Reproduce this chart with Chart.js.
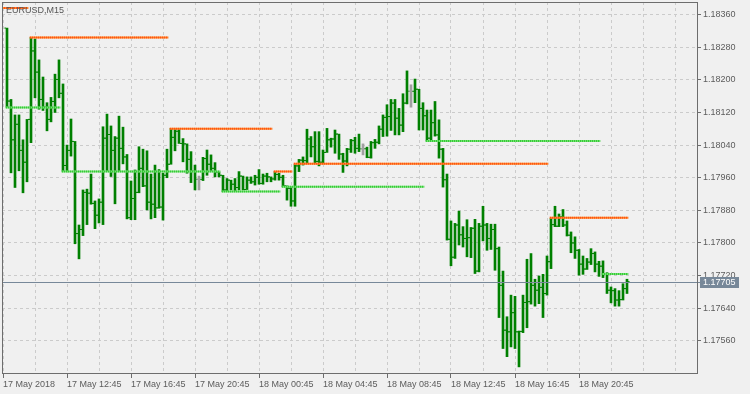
<!DOCTYPE html>
<html>
<head>
<meta charset="utf-8">
<title>EURUSD,M15</title>
<script src="https://cdn.jsdelivr.net/npm/chart.js@4.4.0/dist/chart.umd.min.js"></script>
<style>
  html, body { margin: 0; padding: 0; background: #f0f0f0; }
  #wrap { width: 750px; height: 394px; }
</style>
</head>
<body>
<div id="wrap"><canvas id="chart" width="750" height="394"></canvas></div>
<script>
// EURUSD M15 bars, 17 May 2018 09:00 onwards (one entry per bar)
const opens = [
  1.18327, 1.18148, 1.18053, 1.18091, 1.18027, 1.17998, 1.18103, 1.18271, 1.18219, 1.18152,
  1.18133, 1.18103, 1.18147, 1.18201, 1.18167, 1.17990, 1.18027, 1.18049, 1.17823, 1.17833,
  1.17924, 1.17922, 1.17897, 1.17868, 1.17900, 1.18057, 1.18066, 1.18027, 1.18057, 1.18032,
  1.18011, 1.17862, 1.17909, 1.17924, 1.17983, 1.17940, 1.17900, 1.17895, 1.17886, 1.17888,
  1.17966, 1.17993, 1.18059, 1.18074, 1.18044, 1.18043, 1.18005, 1.17976, 1.17956, 1.17956,
  1.18007, 1.17993, 1.17983, 1.17974, 1.17966, 1.17930, 1.17954, 1.17944, 1.17936, 1.17964,
  1.17931, 1.17954, 1.17950, 1.17961, 1.17946, 1.17964, 1.17962, 1.17957, 1.17968, 1.17961,
  1.17940, 1.17934, 1.17903, 1.17989, 1.18003, 1.18002, 1.18055, 1.18036, 1.18000, 1.17998,
  1.18022, 1.18053, 1.18055, 1.18067, 1.18018, 1.18001, 1.18030, 1.18051, 1.18032, 1.18031,
  1.18031, 1.18010, 1.18046, 1.18047, 1.18079, 1.18108, 1.18110, 1.18143, 1.18106, 1.18089,
  1.18143, 1.18172, 1.18172, 1.18177, 1.18130, 1.18112, 1.18057, 1.18095, 1.18065, 1.18030,
  1.17955, 1.17809, 1.17765, 1.17844, 1.17820, 1.17811, 1.17813, 1.17836, 1.17731, 1.17841,
  1.17844, 1.17811, 1.17833, 1.17786, 1.17696, 1.17586, 1.17582, 1.17629, 1.17582, 1.17583,
  1.17654, 1.17656, 1.17696, 1.17684, 1.17691, 1.17676, 1.17754, 1.17845, 1.17841, 1.17864,
  1.17844, 1.17819, 1.17800, 1.17782, 1.17748, 1.17736, 1.17753, 1.17774, 1.17748, 1.17743,
  1.17725, 1.17684, 1.17683, 1.17660, 1.17661, 1.17688
];
const highs = [
  1.18327, 1.18152, 1.18114, 1.18114, 1.18053, 1.18103, 1.18304, 1.18300, 1.18249, 1.18207,
  1.18144, 1.18157, 1.18214, 1.18249, 1.18190, 1.18040, 1.18104, 1.18049, 1.17844, 1.17930,
  1.17932, 1.17969, 1.17903, 1.17908, 1.18085, 1.18116, 1.18087, 1.18061, 1.18111, 1.18084,
  1.18017, 1.17952, 1.17979, 1.18036, 1.18030, 1.18026, 1.17969, 1.17991, 1.17980, 1.17971,
  1.18030, 1.18081, 1.18078, 1.18078, 1.18056, 1.18043, 1.18024, 1.17991, 1.17964, 1.18010,
  1.18028, 1.18016, 1.17997, 1.17974, 1.17966, 1.17958, 1.17954, 1.17958, 1.17975, 1.17964,
  1.17962, 1.17962, 1.17966, 1.17980, 1.17969, 1.17971, 1.17962, 1.17975, 1.17971, 1.17966,
  1.17940, 1.17938, 1.17992, 1.18005, 1.18011, 1.18079, 1.18061, 1.18073, 1.18073, 1.18028,
  1.18081, 1.18057, 1.18077, 1.18067, 1.18020, 1.18032, 1.18054, 1.18059, 1.18067, 1.18043,
  1.18035, 1.18049, 1.18054, 1.18087, 1.18114, 1.18139, 1.18152, 1.18152, 1.18130, 1.18166,
  1.18222, 1.18188, 1.18202, 1.18177, 1.18144, 1.18126, 1.18126, 1.18147, 1.18102, 1.18032,
  1.17969, 1.17854, 1.17848, 1.17878, 1.17840, 1.17857, 1.17838, 1.17858, 1.17848, 1.17890,
  1.17848, 1.17846, 1.17846, 1.17790, 1.17731, 1.17619, 1.17672, 1.17669, 1.17584, 1.17672,
  1.17760, 1.17774, 1.17711, 1.17719, 1.17723, 1.17768, 1.17860, 1.17890, 1.17871, 1.17882,
  1.17854, 1.17827, 1.17815, 1.17784, 1.17768, 1.17762, 1.17786, 1.17778, 1.17755, 1.17756,
  1.17727, 1.17692, 1.17688, 1.17683, 1.17700, 1.17711
];
const lows = [
  1.18133, 1.17972, 1.17936, 1.17977, 1.17923, 1.17950, 1.18046, 1.18156, 1.18128, 1.18125,
  1.18075, 1.18097, 1.18120, 1.18156, 1.17976, 1.17976, 1.18013, 1.17798, 1.17761, 1.17818,
  1.17845, 1.17895, 1.17835, 1.17849, 1.17845, 1.17976, 1.17963, 1.17896, 1.17976, 1.17994,
  1.17859, 1.17857, 1.17857, 1.17923, 1.17938, 1.17881, 1.17859, 1.17862, 1.17885, 1.17856,
  1.17960, 1.17993, 1.18026, 1.18044, 1.17999, 1.17971, 1.17948, 1.17930, 1.17930, 1.17953,
  1.17966, 1.17975, 1.17962, 1.17962, 1.17926, 1.17927, 1.17930, 1.17927, 1.17930, 1.17930,
  1.17931, 1.17946, 1.17942, 1.17944, 1.17944, 1.17950, 1.17950, 1.17954, 1.17954, 1.17938,
  1.17905, 1.17890, 1.17890, 1.17975, 1.17991, 1.17995, 1.18011, 1.17995, 1.17989, 1.17995,
  1.18022, 1.18035, 1.18020, 1.18005, 1.17973, 1.17989, 1.18022, 1.18020, 1.18024, 1.18016,
  1.18009, 1.18008, 1.18032, 1.18043, 1.18061, 1.18062, 1.18076, 1.18065, 1.18065, 1.18073,
  1.18141, 1.18133, 1.18144, 1.18077, 1.18077, 1.18050, 1.18053, 1.18062, 1.18008, 1.17937,
  1.17807, 1.17744, 1.17762, 1.17795, 1.17790, 1.17766, 1.17764, 1.17725, 1.17729, 1.17805,
  1.17782, 1.17784, 1.17733, 1.17617, 1.17541, 1.17521, 1.17545, 1.17541, 1.17496, 1.17580,
  1.17592, 1.17650, 1.17645, 1.17651, 1.17617, 1.17672, 1.17737, 1.17840, 1.17840, 1.17840,
  1.17817, 1.17776, 1.17762, 1.17721, 1.17723, 1.17735, 1.17747, 1.17729, 1.17718, 1.17715,
  1.17676, 1.17653, 1.17645, 1.17645, 1.17660, 1.17676
];
const closes = [
  1.18148, 1.18053, 1.18091, 1.18027, 1.17998, 1.18103, 1.18271, 1.18219, 1.18152, 1.18133,
  1.18103, 1.18147, 1.18201, 1.18167, 1.17990, 1.18027, 1.18049, 1.17823, 1.17833, 1.17924,
  1.17922, 1.17897, 1.17868, 1.17900, 1.18057, 1.18066, 1.18027, 1.18057, 1.18032, 1.18011,
  1.17862, 1.17909, 1.17924, 1.17983, 1.17940, 1.17900, 1.17895, 1.17886, 1.17888, 1.17966,
  1.17993, 1.18059, 1.18074, 1.18044, 1.18043, 1.18005, 1.17976, 1.17956, 1.17956, 1.18007,
  1.17993, 1.17983, 1.17974, 1.17966, 1.17930, 1.17954, 1.17944, 1.17936, 1.17964, 1.17931,
  1.17954, 1.17950, 1.17961, 1.17946, 1.17964, 1.17962, 1.17957, 1.17968, 1.17961, 1.17940,
  1.17934, 1.17903, 1.17989, 1.18003, 1.18002, 1.18055, 1.18036, 1.18000, 1.17998, 1.18022,
  1.18053, 1.18055, 1.18067, 1.18018, 1.18001, 1.18030, 1.18051, 1.18032, 1.18031, 1.18031,
  1.18010, 1.18046, 1.18047, 1.18079, 1.18108, 1.18110, 1.18143, 1.18106, 1.18089, 1.18143,
  1.18172, 1.18172, 1.18177, 1.18130, 1.18112, 1.18057, 1.18095, 1.18065, 1.18030, 1.17955,
  1.17809, 1.17765, 1.17844, 1.17820, 1.17811, 1.17813, 1.17836, 1.17731, 1.17841, 1.17844,
  1.17811, 1.17833, 1.17786, 1.17696, 1.17586, 1.17582, 1.17629, 1.17582, 1.17583, 1.17654,
  1.17656, 1.17696, 1.17684, 1.17691, 1.17676, 1.17754, 1.17845, 1.17841, 1.17864, 1.17844,
  1.17819, 1.17800, 1.17782, 1.17748, 1.17736, 1.17753, 1.17774, 1.17748, 1.17743, 1.17725,
  1.17684, 1.17683, 1.17660, 1.17661, 1.17688, 1.17705
];

// time axis: a label every 16 bars (4 hours), first one sits one bar before bar 0
const xLabels = ['17 May 2018', '17 May 12:45', '17 May 16:45', '17 May 20:45', '18 May 00:45',
                 '18 May 04:45', '18 May 08:45', '18 May 12:45', '18 May 16:45', '18 May 20:45'];
const xLabelFirstBar = -1;
const barsPerLabel = 16;
const barsPerGrid = 8;

const yTicks = [1.17560, 1.17640, 1.17720, 1.17800, 1.17880, 1.17960,
                1.18040, 1.18120, 1.18200, 1.18280, 1.18360];
const lastPrice = 1.17705;

// dotted indicator levels (price, first bar, last bar, high/low)
const levelPrices = [1.18376, 1.18304, 1.18132, 1.17975, 1.18080, 1.17926,
                     1.17975, 1.17938, 1.17994, 1.18050, 1.17862, 1.17724];
const levelFrom = [-1, 6, 0, 14, 41, 54, 67, 69, 72, 105, 136, 149];
const levelTo = [5, 40, 13, 53, 66, 68, 71, 104, 135, 148, 155, 155];
const levelIsHigh = [true, true, false, false, true, false, true, false, true, false, true, false];

const FONT = "'Liberation Sans', Arial, sans-serif";
const TEXT = '#5c5c5c';
const FRAME = '#6d6d6d';
const GRID = '#cbcbcb';
const PRICE = '#778899';

Chart.defaults.font.family = FONT;
Chart.defaults.font.size = 9;
Chart.defaults.color = TEXT;

function levelData(high) {
    const pts = [];
    levelPrices.forEach((p, k) => {
        if (levelIsHigh[k] !== high) return;
        pts.push({x: levelFrom[k] - 0.3, y: p});
        pts.push({x: levelTo[k] + 0.3, y: p});
        pts.push({x: levelTo[k] + 0.4, y: null});
    });
    return pts;
}

function levelLine(data, color, dash) {
    return {
        type: 'line', data: data, borderColor: color, borderWidth: 2, borderDash: dash,
        pointRadius: 0, spanGaps: false, fill: false, tension: 0
    };
}

const barColors = closes.map((c, i) => c === opens[i] ? '#a0a0a0' : '#008000');

function tickData(values, shift) {
    return values.map((v, i) => ({x: i + shift, y: v}));
}

function tickSet(values, shift) {
    return {
        type: 'scatter', data: tickData(values, shift),
        pointStyle: 'line', pointRadius: 0.8, pointHoverRadius: 0.8,
        pointBorderWidth: 1, pointBorderColor: barColors, pointBackgroundColor: barColors
    };
}

// keep the axes from reserving room for labels that sit inside the plot
function noPadding(scale) {
    scale.paddingTop = 0;
    scale.paddingBottom = 0;
    scale.paddingLeft = 0;
    scale.paddingRight = 0;
}

const mtPlugin = {
    id: 'mtFrame',
    beforeDraw(chart) {
        const ctx = chart.ctx;
        ctx.save();
        ctx.fillStyle = '#f0f0f0';
        ctx.fillRect(0, 0, chart.width, chart.height);
        ctx.restore();
    },
    afterDatasetsDraw(chart) {
        const ctx = chart.ctx;
        const a = chart.chartArea;
        const py = Math.round(chart.scales.y.getPixelForValue(lastPrice)) + 0.5;
        ctx.save();
        ctx.strokeStyle = PRICE;
        ctx.lineWidth = 1;
        ctx.beginPath();
        ctx.moveTo(a.left, py);
        ctx.lineTo(a.right + 3, py);
        ctx.stroke();
        ctx.restore();
    },
    afterDraw(chart) {
        const ctx = chart.ctx;
        const a = chart.chartArea;
        ctx.save();
        // frame round the plot
        ctx.strokeStyle = FRAME;
        ctx.lineWidth = 1;
        ctx.strokeRect(Math.round(a.left) + 0.5, Math.round(a.top) + 0.5,
                       Math.round(a.right - a.left), Math.round(a.bottom - a.top));
        // last price box on the price axis
        const py = Math.round(chart.scales.y.getPixelForValue(lastPrice));
        ctx.fillStyle = PRICE;
        ctx.fillRect(a.right + 3, py - 5, 39, 11);
        ctx.fillStyle = '#ffffff';
        ctx.font = '9px ' + FONT;
        ctx.textBaseline = 'middle';
        ctx.fillText(lastPrice.toFixed(5), a.right + 6, py + 0.5);
        // symbol caption
        ctx.fillStyle = '#555555';
        ctx.textBaseline = 'alphabetic';
        ctx.fillText('EURUSD,M15', 6, 13);
        ctx.restore();
    }
};

new Chart(document.getElementById('chart'), {
    type: 'bar',
    data: {
        datasets: [
            levelLine(levelData(true), '#ff3c14', [1, 1]),
            levelLine(levelData(true), '#ff9a2a', []),
            levelLine(levelData(false), '#22c322', [1, 1]),
            levelLine(levelData(false), '#86e886', []),
            tickSet(opens, -0.45),
            tickSet(closes, 0.45),
            {
                type: 'bar',
                data: highs.map((h, i) => ({x: i, y: [lows[i], h]})),
                backgroundColor: barColors,
                borderWidth: 0,
                barThickness: 2,
                grouped: false
            }
        ]
    },
    options: {
        responsive: false,
        devicePixelRatio: 1,
        animation: false,
        events: [],
        layout: { padding: { left: 2, top: 2, right: 0, bottom: 0 } },
        plugins: { legend: { display: false }, tooltip: { enabled: false } },
        scales: {
            x: {
                type: 'linear',
                position: 'bottom',
                offset: false,
                min: -1.25,
                max: 172.5,
                afterBuildTicks: scale => {
                    const t = [];
                    for (let v = xLabelFirstBar; v <= 168; v += barsPerGrid) t.push({value: v});
                    scale.ticks = t;
                },
                afterFit: scale => { scale.height = 21; noPadding(scale); },
                ticks: {
                    autoSkip: false,
                    maxRotation: 0,
                    minRotation: 0,
                    align: 'start',
                    padding: 1,
                    color: TEXT,
                    font: { family: FONT, size: 9 },
                    callback: v => {
                        const k = (v - xLabelFirstBar) / barsPerLabel;
                        return Number.isInteger(k) && k < xLabels.length ? xLabels[k] : '';
                    }
                },
                grid: {
                    offset: false,
                    color: GRID,
                    drawTicks: true,
                    tickLength: 5,
                    tickColor: c => {
                        const k = (c.tick.value - xLabelFirstBar) / barsPerLabel;
                        return Number.isInteger(k) && k < xLabels.length ? FRAME : 'rgba(0,0,0,0)';
                    }
                },
                border: { display: false, dash: [3, 3] }
            },
            y: {
                type: 'linear',
                position: 'right',
                beginAtZero: false,
                min: 1.17481,
                max: 1.18391,
                afterBuildTicks: scale => { scale.ticks = yTicks.map(v => ({value: v})); },
                afterFit: scale => { scale.width = 53; noPadding(scale); },
                ticks: {
                    padding: 2,
                    color: TEXT,
                    font: { family: FONT, size: 9 },
                    callback: v => Number(v).toFixed(5)
                },
                grid: {
                    color: GRID,
                    drawTicks: true,
                    tickLength: 4,
                    tickColor: FRAME
                },
                border: { display: false, dash: [3, 3] }
            }
        }
    },
    plugins: [mtPlugin]
});
</script>
</body>
</html>
